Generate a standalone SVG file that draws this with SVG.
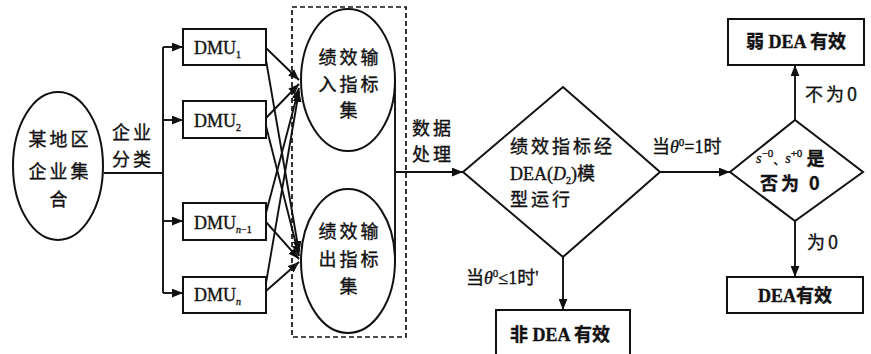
<svg xmlns="http://www.w3.org/2000/svg" width="871" height="354" viewBox="0 0 871 354">
<defs>
<marker id="ar" viewBox="0 0 10 8" refX="10" refY="4" markerWidth="11" markerHeight="9" markerUnits="userSpaceOnUse" orient="auto">
<path d="M0,0 L10,4 L0,8 Z" fill="#111"/>
</marker>
</defs>
<style>
.b{fill:#fff;stroke:#111;stroke-width:2}
.c{stroke:#111;stroke-width:1.9;fill:none}
.a{marker-end:url(#ar)}
.t{font-family:"Liberation Serif","Noto Sans CJK SC",serif;font-size:18px;fill:#111;stroke:#111;stroke-width:0.35}
.z{font-family:"Noto Sans CJK SC","Liberation Serif",sans-serif;font-size:18px;fill:#111;letter-spacing:3px;stroke:#111;stroke-width:0.35}
.m{text-anchor:middle}
.bd{font-weight:bold}
</style>
<rect x="292" y="7" width="114" height="330" fill="none" stroke="#111" stroke-width="1.7" stroke-dasharray="5,3"/>
<g id="connectors">
<line class="c" x1="104" y1="173" x2="163" y2="173"/>
<line class="c" x1="163" y1="47" x2="163" y2="293"/>
<line class="c a" x1="163" y1="47" x2="183" y2="47"/>
<line class="c a" x1="163" y1="120" x2="183" y2="120"/>
<line class="c a" x1="163" y1="221" x2="183" y2="221"/>
<line class="c a" x1="163" y1="293" x2="183" y2="293"/>
<line class="c a" x1="266" y1="48" x2="299" y2="80"/>
<line class="c a" x1="266" y1="60" x2="299" y2="252"/>
<line class="c a" x1="266" y1="118" x2="299" y2="84"/>
<line class="c a" x1="266" y1="126" x2="299" y2="256"/>
<line class="c a" x1="266" y1="213" x2="299" y2="88"/>
<line class="c a" x1="266" y1="222" x2="299" y2="259"/>
<line class="c a" x1="266" y1="283" x2="299" y2="91"/>
<line class="c a" x1="266" y1="291" x2="299" y2="262"/>
<line class="c" x1="395" y1="80" x2="395" y2="261"/>
<line class="c a" x1="395" y1="172" x2="463" y2="172"/>
<line class="c a" x1="563" y1="257" x2="563" y2="310"/>
<line class="c a" x1="660" y1="172" x2="730" y2="172"/>
<line class="c a" x1="795" y1="120" x2="795" y2="65"/>
<line class="c a" x1="795" y1="221" x2="795" y2="277"/>
<text class="z" x="112" y="139">企业</text>
<text class="z" x="112" y="166">分类</text>
<text class="z" x="412" y="135">数据</text>
<text class="z" x="412" y="161">处理</text>
<text class="t" x="466" y="284"><tspan font-family="Noto Sans CJK SC">当</tspan><tspan font-style="italic">θ</tspan><tspan font-size="11" dy="-7">0</tspan><tspan dy="7">≤1</tspan><tspan font-family="Noto Sans CJK SC">时</tspan>'</text>
<text class="t" x="652" y="153"><tspan font-family="Noto Sans CJK SC">当</tspan><tspan font-style="italic">θ</tspan><tspan font-size="11" dy="-7">0</tspan><tspan dy="7">=1</tspan><tspan font-family="Noto Sans CJK SC">时</tspan></text>
<text class="z" x="805" y="101">不为0</text>
<text class="z" x="807" y="249">为0</text>
</g>
<g id="n_region">
<ellipse class="b" cx="58" cy="166" rx="45" ry="74"/>
<text class="z m" x="60" y="146">某地区</text>
<text class="z m" x="60" y="178">企业集</text>
<text class="z m" x="60" y="206">合</text>
</g>
<g id="n_dmu1">
<rect class="b" x="183" y="29" width="83" height="36"/>
<text class="t" x="194" y="54">DMU<tspan font-size="10" dy="4">1</tspan></text>
</g>
<g id="n_dmu2">
<rect class="b" x="183" y="101" width="83" height="37"/>
<text class="t" x="194" y="127">DMU<tspan font-size="10" dy="4">2</tspan></text>
</g>
<g id="n_dmun1">
<rect class="b" x="183" y="203" width="83" height="37"/>
<text class="t" x="194" y="229">DMU<tspan font-size="10" dy="4" font-style="italic">n</tspan><tspan font-size="10">−1</tspan></text>
</g>
<g id="n_dmun">
<rect class="b" x="183" y="277" width="83" height="36"/>
<text class="t" x="194" y="301">DMU<tspan font-size="10" dy="4" font-style="italic">n</tspan></text>
</g>
<g id="n_input">
<ellipse class="b" cx="348" cy="80" rx="47" ry="71"/>
<text class="z m" x="350" y="64">绩效输</text>
<text class="z m" x="350" y="91">入指标</text>
<text class="z m" x="350" y="117">集</text>
</g>
<g id="n_output">
<ellipse class="b" cx="348" cy="261" rx="47" ry="72"/>
<text class="z m" x="350" y="238">绩效输</text>
<text class="z m" x="350" y="266">出指标</text>
<text class="z m" x="350" y="293">集</text>
</g>
<g id="n_model">
<polygon class="b" points="463,172 563,87 660,172 563,257"/>
<text class="z" x="510" y="153" letter-spacing="1">绩效指标经</text>
<text class="t" x="510" y="180">DEA(<tspan font-style="italic">D</tspan><tspan font-size="10" dy="4">2</tspan><tspan dy="-4">)</tspan><tspan font-family="Noto Sans CJK SC">模</tspan></text>
<text class="z" x="510" y="206">型运行</text>
</g>
<g id="n_slack">
<polygon class="b" points="730,172 795,120 863,172 795,221"/>
<text class="t" x="756" y="165"><tspan font-size="14" font-style="italic" dy="-2">s</tspan><tspan font-size="11" dy="-6">−0</tspan><tspan font-size="12" dy="8">、</tspan><tspan font-size="14" font-style="italic" dy="-2">s</tspan><tspan font-size="11" dy="-6">+0</tspan><tspan dy="8" font-family="Noto Sans CJK SC" font-weight="bold"> 是</tspan></text>
<text class="z bd" x="760" y="190">否为 0</text>
</g>
<g id="n_weak">
<rect class="b" x="728" y="19" width="136" height="46"/>
<text class="t bd m" x="796" y="48">弱 DEA 有效</text>
</g>
<g id="n_eff">
<rect class="b" x="727" y="277" width="136" height="36"/>
<text class="t bd m" x="795" y="302">DEA有效</text>
</g>
<g id="n_noneff">
<rect class="b" x="496" y="310" width="134" height="50"/>
<text class="t bd m" x="560" y="341">非 DEA 有效</text>
</g>
</svg>
